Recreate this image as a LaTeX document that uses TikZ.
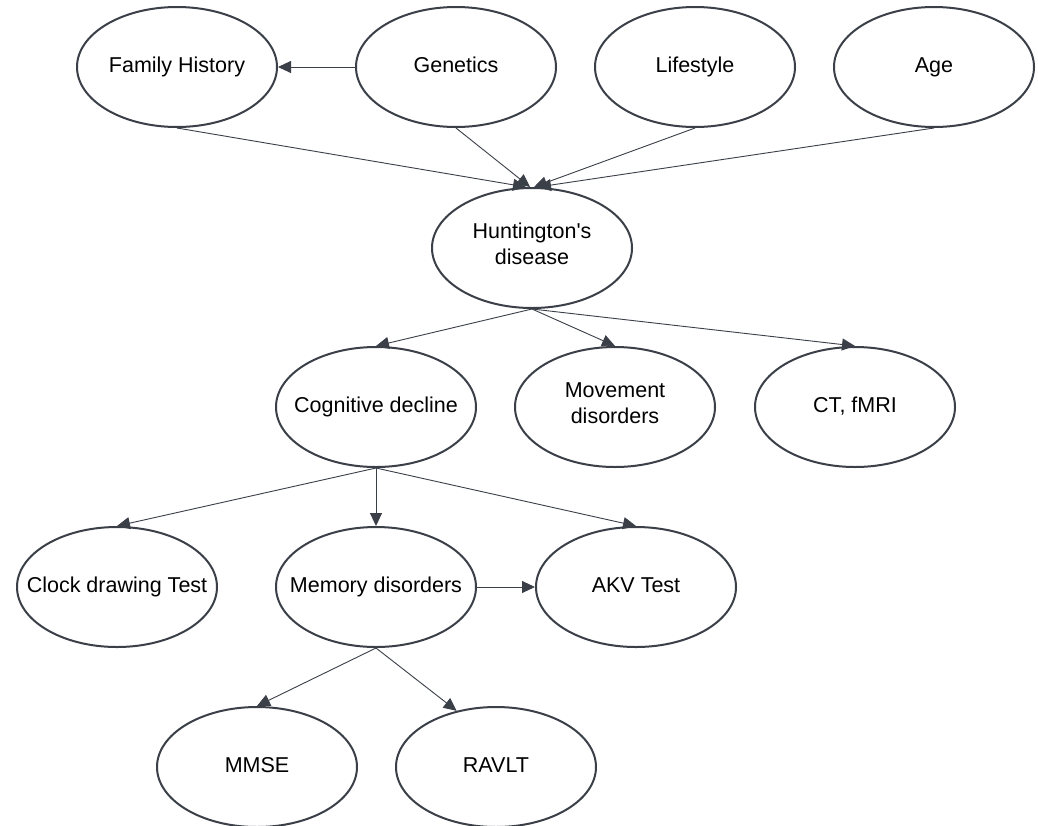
\documentclass[tikz,border=0pt]{standalone}
\usepackage{fontspec}
\setmainfont{Liberation Sans}
\usetikzlibrary{arrows.meta,shapes.geometric}
\definecolor{ink}{HTML}{3A3F48}
% keep long labels from widening their ellipse
\newcommand\nowidth[1]{\makebox[0pt]{#1}}
\tikzset{
  oval/.style={ellipse, draw=ink, line width=2pt, fill=white,
    minimum width=200pt, minimum height=120pt, inner sep=0pt,
    align=center, font=\fontsize{21.5}{26}\selectfont},
  one/.style={oval, text height=15.5pt, text depth=4.5pt},
  link/.style={draw=ink, line width=0.9pt,
    -{Triangle[length=13pt,width=12pt]}},
}
\begin{document}
\begin{tikzpicture}[x=1pt,y=-1pt]
\clip (0,0) rectangle (1038,825);
\fill[white] (0,0) rectangle (1038,825);

% risk factors
\node[one] (fam)  at (177,67) {\nowidth{Family History}};
\node[one] (gen)  at (456,67) {\nowidth{Genetics}};
\node[one] (life) at (695,67) {\nowidth{Lifestyle}};
\node[one] (age)  at (934,67) {\nowidth{Age}};

% disease
\node[oval] (hd) at (532,248) {Huntington\textquotesingle s\\disease\\[-18pt]\mbox{}};

% symptoms and imaging
\node[one]  (cog) at (376,407) {\nowidth{Cognitive decline}};
\node[oval] (mov) at (615,407) {Movement\\disorders\\[-18pt]\mbox{}};
\node[one]  (ct)  at (855,407) {\nowidth{CT, fMRI}};

% cognitive tests
\node[one] (clock) at (117,587) {\nowidth{Clock drawing Test}};
\node[one] (mem)   at (376,587) {\nowidth{Memory disorders}};
\node[one] (akv)   at (636,587) {\nowidth{AKV Test}};

% memory tests
\node[one] (mmse)  at (257,767) {\nowidth{MMSE}};
\node[one] (ravlt) at (496,767) {\nowidth{RAVLT}};

% connectors
\draw[link] (gen.west) -- (fam.east);
\draw[link] (fam.south) -- ([xshift=-6pt]hd.north);
\draw[link] (gen.south) -- ([xshift=-2pt]hd.north);
\draw[link] (life.south) -- ([xshift=2pt]hd.north);
\draw[link] (age.south) -- ([xshift=6pt]hd.north);

\draw[link] (hd.south) -- (cog.north);
\draw[link] (hd.south) -- (mov.north);
\draw[link] (hd.south) -- (ct.north);

\draw[link] (cog.south) -- (clock.north);
\draw[link] (cog.south) -- (mem.north);
\draw[link] (cog.south) -- (akv.north);

\draw[link] (mem.east) -- (akv.west);
\draw[link] (mem.south) -- (mmse.north);
\draw[link] (mem.south) -- (ravlt.125);
\end{tikzpicture}
\end{document}
